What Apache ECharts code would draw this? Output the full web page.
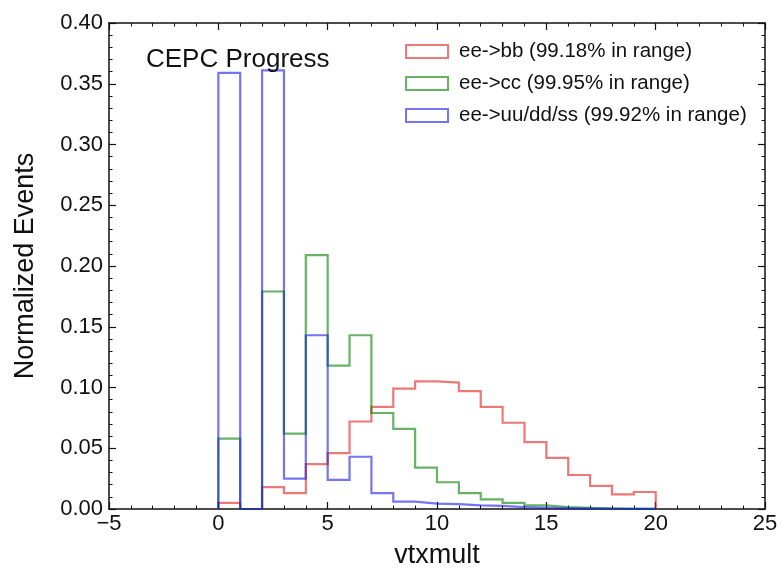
<!DOCTYPE html>
<html>
<head>
<meta charset="utf-8">
<script src="https://cdn.jsdelivr.net/npm/echarts@6/dist/echarts.min.js"></script>
<style>
  html, body { margin: 0; padding: 0; background: #fff; }
  #chart { width: 782px; height: 574px; }
</style>
</head>
<body>
<div id="chart"></div>
<script>
// vtxmult histograms: 20 unit-width bins starting at 0
const binStart = 0;
const binWidth = 1;

const bbValues = [0.005, 0.000, 0.018, 0.013, 0.037, 0.046, 0.072, 0.084, 0.099, 0.105,
                  0.104, 0.097, 0.084, 0.071, 0.055, 0.042, 0.028, 0.019, 0.012, 0.014];
const ccValues = [0.058, 0.000, 0.179, 0.062, 0.209, 0.118, 0.143, 0.079, 0.066, 0.034,
                  0.022, 0.013, 0.008, 0.005, 0.003, 0.0015, 0.001, 0.0005, 0.0002, 0.0001];
const udsValues = [0.359, 0.000, 0.361, 0.025, 0.143, 0.024, 0.043, 0.013, 0.006, 0.0045,
                   0.004, 0.003, 0.0025, 0.0015, 0.001, 0.0005, 0.0003, 0.0002, 0.0001, 0.0001];

const seriesNames = [
  'ee->bb (99.18% in range)',
  'ee->cc (99.95% in range)',
  'ee->uu/dd/ss (99.92% in range)'
];
const seriesColors = ['rgba(225,30,30,0.6)', 'rgba(0,128,0,0.6)', 'rgba(25,25,235,0.6)'];

const xTicks = { min: -5, max: 25, step: 5 };
const yTicks = { min: 0, max: 0.40, step: 0.05 };

// Outline of a step histogram: up from zero at the first edge, across each bin, down at the last edge
function stepOutline(values) {
  const pts = [[binStart, 0]];
  values.forEach((v, i) => {
    const x0 = binStart + i * binWidth;
    pts.push([x0, v], [x0 + binWidth, v]);
  });
  pts.push([binStart + values.length * binWidth, 0]);
  return pts;
}

const FONT = 'Liberation Sans, Arial, Helvetica, sans-serif';

function minusLabel(v) {
  return v < 0 ? '\u2212' + Math.abs(v) : String(v);
}

function axisCommon(extra) {
  return Object.assign({
    axisLine: { show: true, onZero: false, lineStyle: { color: '#111', width: 1.5 } },
    axisTick: { show: true, inside: true, length: 7, lineStyle: { color: '#111', width: 1.2 } },
    minorTick: { show: true, splitNumber: 5, length: 3.5, lineStyle: { color: '#111', width: 1 } },
    splitLine: { show: false },
    minorSplitLine: { show: false }
  }, extra);
}

const chart = echarts.init(document.getElementById('chart'), null, { renderer: 'canvas' });

const option = {
  animation: false,
  backgroundColor: '#fff',
  textStyle: { fontFamily: FONT },
  grid: { left: 109, top: 23, right: 17, bottom: 63, containLabel: false },
  title: {
    text: 'CEPC Progress',
    left: 141, top: 42,
    textStyle: { fontFamily: FONT, fontSize: 26, fontWeight: 'normal', color: '#111' }
  },
  legend: {
    orient: 'vertical',
    left: 400, top: 36,
    itemWidth: 42, itemHeight: 13,
    itemGap: 11,
    textStyle: { fontFamily: FONT, fontSize: 20.5, color: '#111', lineHeight: 20, padding: [0, 0, 0, 6] },
    data: seriesNames.map((n, i) => ({
      name: n,
      icon: 'rect',
      itemStyle: { color: 'rgba(255,255,255,0)', borderColor: seriesColors[i], borderWidth: 2 }
    }))
  },
  xAxis: [
    axisCommon({
      type: 'value', position: 'bottom',
      min: xTicks.min, max: xTicks.max, interval: xTicks.step,
      name: 'vtxmult', nameLocation: 'middle', nameGap: 33,
      nameTextStyle: { fontFamily: FONT, fontSize: 27, color: '#111' },
      axisLabel: { show: true, margin: 4, fontFamily: FONT, fontSize: 22, color: '#111', formatter: minusLabel }
    }),
    axisCommon({
      type: 'value', position: 'top',
      min: xTicks.min, max: xTicks.max, interval: xTicks.step,
      axisLabel: { show: false }
    })
  ],
  yAxis: [
    axisCommon({
      type: 'value', position: 'left',
      min: yTicks.min, max: yTicks.max, interval: yTicks.step,
      name: 'Normalized Events', nameLocation: 'middle', nameGap: 70,
      nameTextStyle: { fontFamily: FONT, fontSize: 27, color: '#111' },
      axisLabel: { show: true, margin: 6, fontFamily: FONT, fontSize: 22, color: '#111',
                   formatter: v => v.toFixed(2) }
    }),
    axisCommon({
      type: 'value', position: 'right',
      min: yTicks.min, max: yTicks.max, interval: yTicks.step,
      axisLabel: { show: false }
    })
  ],
  series: [bbValues, ccValues, udsValues].map((vals, i) => ({
    name: seriesNames[i],
    type: 'line',
    xAxisIndex: 0, yAxisIndex: 0,
    data: stepOutline(vals),
    showSymbol: false,
    symbol: 'none',
    color: seriesColors[i],
    itemStyle: { color: seriesColors[i] },
    lineStyle: { color: seriesColors[i], width: 2.2, join: 'miter' },
    clip: false,
    z: 2 + i
  }))
};

chart.setOption(option);
</script>
</body>
</html>
